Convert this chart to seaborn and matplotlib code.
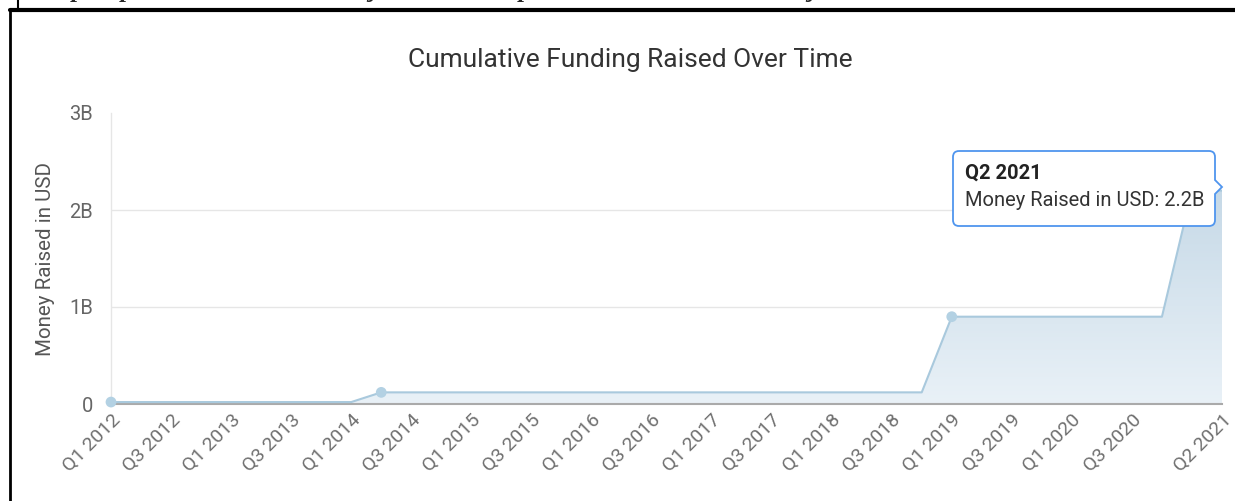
import numpy as np
import pandas as pd
import seaborn as sns
import matplotlib.pyplot as plt
from matplotlib.lines import Line2D
from matplotlib.path import Path
from matplotlib.patches import PathPatch
from matplotlib.colors import LinearSegmentedColormap

# quarters Q1 2012 .. Q2 2021
quarters = [f"Q{q} {y}" for y in range(2012, 2022) for q in range(1, 5)][:38]
money = ([0.02e9] * 9 + [0.12e9] * 19 + [0.9e9] * 8 + [2.2e9, 2.2e9])
event_quarters = ["Q1 2012", "Q2 2014", "Q1 2019", "Q1 2021"]
tick_quarters = quarters[0:35:2] + ["Q2 2021"]
y_ticks = [0, 1e9, 2e9, 3e9]
y_tick_labels = ["0", "1B", "2B", "3B"]
tooltip_title = "Q2 2021"
tooltip_text = "Money Raised in USD: 2.2B"

W, H = 1235, 501


def px(x, y):
    return x / W, 1 - y / H


df = pd.DataFrame({"quarter": quarters, "money": money})
df["idx"] = np.arange(len(df))
events = df[df["quarter"].isin(event_quarters)]

sns.set_style("white")
plt.rcParams["font.family"] = ["Roboto", "DejaVu Sans"]

fig = plt.figure(figsize=(W / 100, H / 100), dpi=100)
ax = fig.add_axes([111 / W, 1 - 404 / H, (1222 - 111) / W, (404 - 113) / H])

# gradient area under the line
poly = ax.fill_between(df["idx"], df["money"], 0, color="none")
cmap = LinearSegmentedColormap.from_list("area", ["#e9f1f7", "#c6d9e7"])
grad = np.linspace(0, 1, 256).reshape(-1, 1)
img = ax.imshow(grad, cmap=cmap, origin="lower", aspect="auto",
                extent=[0, len(df) - 1, 0, 2.2e9], zorder=1)
img.set_clip_path(poly.get_paths()[0], transform=ax.transData)

sns.lineplot(data=df, x="idx", y="money", color="#a9c9dd", linewidth=1.5, ax=ax, zorder=3)
sns.scatterplot(data=events, x="idx", y="money", color="#b3d1e3", s=60,
                edgecolor="none", ax=ax, zorder=4, clip_on=False)

ax.set_xlim(0, len(df) - 1)
ax.set_ylim(0, 3e9)
ax.set_yticks(y_ticks)
ax.set_yticklabels(y_tick_labels)
tick_pos = [quarters.index(q) for q in tick_quarters]
ax.set_xticks(tick_pos)
ax.set_xticklabels(tick_quarters, rotation=45, ha="right", rotation_mode="anchor")

ax.grid(axis="y", color="#e6e6e6", linewidth=1)
ax.get_ygridlines()[-1].set_visible(False)
ax.get_ygridlines()[0].set_visible(False)
ax.tick_params(axis="y", length=12, width=1, color="#e6e6e6", pad=1,
               labelsize=14.5, labelcolor="#666666")
ax.tick_params(axis="x", length=0, pad=5, labelsize=14, labelcolor="#707070")
ax.yaxis.get_major_ticks()[-1].tick1line.set_visible(False)
ax.yaxis.get_major_ticks()[0].tick1line.set_color("#aaaaaa")

for s in ["top", "right"]:
    ax.spines[s].set_visible(False)
ax.spines["left"].set_color("#e6e6e6")
ax.spines["left"].set_linewidth(1)
ax.spines["bottom"].set_color("#aaaaaa")
ax.spines["bottom"].set_linewidth(1.5)

ax.set_xlabel("")
ax.set_ylabel("Money Raised in USD", fontsize=14.8, color="#555555", labelpad=10)
fig.text(*px(630, 60), "Cumulative Funding Raised Over Time", fontsize=19,
         color="#333333", ha="center", va="center")

# tooltip with arrow pointing at the last point
x0, x1, y0, y1, r = 953, 1215, 151, 226, 6
ay, ah, tip = 187, 7, 1222
pts = [(x0 + r, y0), (x1 - r, y0), (x1, y0), (x1, y0 + r),
       (x1, ay - ah), (tip, ay), (x1, ay + ah),
       (x1, y1 - r), (x1, y1), (x1 - r, y1),
       (x0 + r, y1), (x0, y1), (x0, y1 - r),
       (x0, y0 + r), (x0, y0), (x0 + r, y0)]
codes = [Path.MOVETO, Path.LINETO, Path.CURVE3, Path.CURVE3,
         Path.LINETO, Path.LINETO, Path.LINETO,
         Path.LINETO, Path.CURVE3, Path.CURVE3,
         Path.LINETO, Path.CURVE3, Path.CURVE3,
         Path.LINETO, Path.CURVE3, Path.CURVE3]
tip_path = Path([px(*p) for p in pts], codes)
fig.add_artist(PathPatch(tip_path, facecolor="white", edgecolor="#4f95ee",
                         linewidth=1.3, transform=fig.transFigure, zorder=10))
fig.text(*px(965, 173), tooltip_title, fontsize=14.5, fontweight="bold",
         color="#222222", va="center", zorder=11)
fig.text(*px(965, 201), tooltip_text, fontsize=14.5, color="#333333",
         va="center", zorder=11)

# document frame around the screenshot
fig.add_artist(Line2D([px(10, 0)[0], px(1235, 0)[0]], [px(0, 10)[1]] * 2,
                      color="black", linewidth=3, transform=fig.transFigure))
fig.add_artist(Line2D([px(10, 0)[0]] * 2, [px(0, 10)[1], px(0, 501)[1]],
                      color="black", linewidth=2, transform=fig.transFigure))
fig.add_artist(Line2D([px(18, 0)[0]] * 2, [px(0, 0)[1], px(0, 8)[1]],
                      color="black", linewidth=1.5, transform=fig.transFigure))
# descenders of the clipped caption line above (cut off in the reference too)
for cx, ch in [(78, "p"), (127, "p"), (373, "j"), (525, "p"), (812, "j")]:
    fig.text(*px(cx, -3), ch, fontsize=18, fontweight="bold", fontstyle="italic",
             family="Liberation Serif", ha="center", va="baseline")

fig.savefig("out.png", dpi=100)
